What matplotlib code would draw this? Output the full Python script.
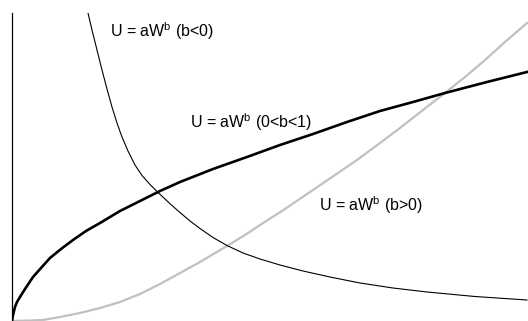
import matplotlib
matplotlib.use('Agg')
import matplotlib.pyplot as plt

plt.rcParams['font.family'] = 'Liberation Sans'
plt.rcParams['mathtext.fontset'] = 'custom'
plt.rcParams['mathtext.rm'] = 'Liberation Sans'
plt.rcParams['mathtext.it'] = 'Liberation Sans'

# valores (unidades arbitrarias: W de 0 a 516, U de 0 a 308)
# curva 0<b<1 (preta grossa)
w_concava = [0, 0.5, 1.5, 3, 5, 8, 13, 21, 29, 38, 49, 61, 74, 88, 108, 128, 148, 168,
             201, 235, 268, 301, 335, 368, 401, 433, 475, 515]
u_concava = [0, 3, 8, 14, 19, 24, 32, 44, 53, 63, 72, 81, 90, 98, 110, 120, 130, 139,
             152, 164, 176, 187, 199, 210, 219, 228, 239, 249]

# curva b<0 (preta fina)
w_neg = [76, 80, 85, 90, 95, 100, 105, 110, 116, 123, 130, 138, 145, 153, 160, 168,
         178, 188, 201, 215, 231, 248, 268, 291, 318, 348, 381, 415, 463, 515]
u_neg = [308, 291, 271, 251, 232, 214, 198, 184, 170, 156, 145.5, 136.5, 129.5, 122,
         115.5, 108.5, 100, 92.5, 83.5, 75.5, 68, 62, 56, 50, 44, 38, 33, 29, 24.5, 21]

# curva b>0 (cinza)
w_pos = [0, 18, 31, 48, 68, 88, 108, 128, 148, 168, 188, 215, 233, 248, 273, 298, 323,
         345, 368, 388, 411, 433, 453, 473, 493, 515]
u_pos = [0, 0.5, 1, 4, 8, 13, 19, 27, 37, 48, 59, 75, 86, 96, 112, 129, 146, 161, 178,
         193, 211, 228, 244, 261, 279, 298]

rotulos = [r'U = aW$^{\mathrm{b}}$ (b<0)', r'U = aW$^{\mathrm{b}}$ (0<b<1)', r'U = aW$^{\mathrm{b}}$ (b>0)']
rot_x = [98, 178, 307]
rot_y = [284.5, 192.7, 109.5]

fig = plt.figure(figsize=(5.28, 3.21), dpi=100)
ax = fig.add_axes([12/528, 0, 516/528, 308/321])

ax.plot(w_pos, u_pos, color='#c0c0c0', lw=1.6)
ax.plot(w_neg, u_neg, color='black', lw=0.8)
ax.plot(w_concava, u_concava, color='black', lw=1.9)

for t, x, y in zip(rotulos, rot_x, rot_y):
    ax.text(x, y, t, fontsize=11.5, ha='left', va='baseline')

ax.set_xlim(0, 516)
ax.set_ylim(0, 308)
ax.set_xticks([])
ax.set_yticks([])
for s in ['top', 'right', 'bottom']:
    ax.spines[s].set_visible(False)
ax.spines['left'].set_linewidth(0.9)

fig.savefig('out.png', dpi=100)
